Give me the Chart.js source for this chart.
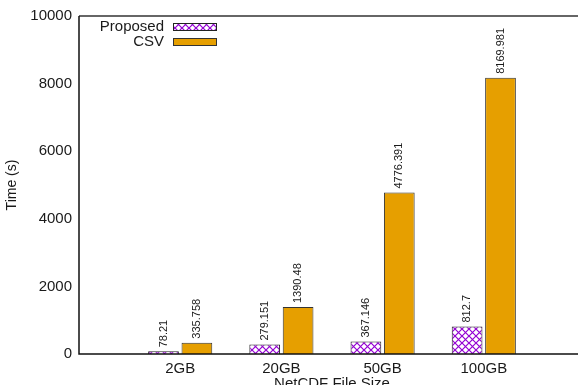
<!DOCTYPE html>
<html>
<head>
<meta charset="utf-8">
<script src="https://cdn.jsdelivr.net/npm/chart.js@4.4.0/dist/chart.umd.min.js"></script>
<style>
  html, body { margin: 0; padding: 0; background: #fff; overflow: hidden; }
  canvas { display: block; }
</style>
</head>
<body>
<canvas id="timeChart" width="578" height="385"></canvas>
<script>
const sizes = ["2GB", "20GB", "50GB", "100GB"];
const proposedTimes = [78.21, 279.151, 367.146, 812.7];
const csvTimes = [335.758, 1390.48, 4776.391, 8169.981];
const yTicks = [0, 2000, 4000, 6000, 8000, 10000];

const FONT = "'Liberation Sans', Arial, sans-serif";
const INK = "#1a1a1a";
const PURPLE = "#9400d3";
const ORANGE = "#e69f00";
const PLOT_RIGHT = 585; // plot box runs a little past the canvas edge

// empty slot on each side of the four groups
const labels = ["", ...sizes, ""];
const pad = (arr) => [null, ...arr, null];

// crosshatch fill for the "Proposed" bars
function crossHatch() {
  const n = 7;
  const c = document.createElement("canvas");
  c.width = n; c.height = n;
  const g = c.getContext("2d");
  g.fillStyle = "#fff";
  g.fillRect(0, 0, n, n);
  g.strokeStyle = PURPLE;
  g.lineWidth = 1.2;
  g.beginPath();
  g.moveTo(-1, -1); g.lineTo(n + 1, n + 1);
  g.moveTo(n + 1, -1); g.lineTo(-1, n + 1);
  g.stroke();
  return g.createPattern(c, "repeat");
}
const hatch = crossHatch();

// push the x scale out to PLOT_RIGHT before the bars are laid out
const stretchX = {
  id: "stretchX",
  afterLayout(chart) {
    const x = chart.scales.x;
    x.right = PLOT_RIGHT;
    x.width = x.right - x.left;
    x.configure();
    chart.chartArea.right = PLOT_RIGHT;
    chart.chartArea.width = PLOT_RIGHT - chart.chartArea.left;
  }
};

// top, left and bottom border lines of the plot area
const frame = {
  id: "frame",
  afterDatasetsDraw(chart) {
    const { ctx, chartArea: a } = chart;
    ctx.save();
    ctx.lineWidth = 1.5;
    ctx.strokeStyle = "#333";
    ctx.beginPath();
    ctx.moveTo(a.left, a.top);
    ctx.lineTo(a.right, a.top);
    ctx.stroke();
    ctx.strokeStyle = "#111";
    ctx.beginPath();
    ctx.moveTo(a.left, a.top);
    ctx.lineTo(a.left, a.bottom);
    ctx.lineTo(a.right, a.bottom);
    ctx.stroke();
    ctx.restore();
  }
};

// rotated value text above each bar
const barValues = {
  id: "barValues",
  afterDatasetsDraw(chart) {
    const { ctx } = chart;
    ctx.save();
    ctx.font = "11px " + FONT;
    ctx.fillStyle = INK;
    ctx.textAlign = "left";
    ctx.textBaseline = "middle";
    chart.data.datasets.forEach((ds, i) => {
      chart.getDatasetMeta(i).data.forEach((bar, j) => {
        const v = ds.data[j];
        if (v == null) return;
        ctx.save();
        ctx.translate(bar.x, bar.y - 4);
        ctx.rotate(-Math.PI / 2);
        ctx.fillText(String(v), 0, 0);
        ctx.restore();
      });
    });
    ctx.restore();
  }
};

// key in the top-left corner: text, then swatch
const key = {
  id: "key",
  afterDraw(chart) {
    const { ctx } = chart;
    ctx.save();
    ctx.font = "15px " + FONT;
    ctx.textAlign = "right";
    ctx.textBaseline = "middle";
    chart.data.datasets.forEach((ds, i) => {
      const y = 27 + i * 15;
      ctx.fillStyle = INK;
      ctx.fillText(ds.label, 164, y);
      ctx.fillStyle = ds.backgroundColor;
      ctx.fillRect(173, y - 4, 44, 8);
      ctx.strokeStyle = ds.borderColor;
      ctx.lineWidth = 1;
      ctx.strokeRect(173.5, y - 3.5, 43, 7);
    });
    ctx.restore();
  }
};

new Chart("timeChart", {
  type: "bar",
  data: {
    labels,
    datasets: [
      {
        label: "Proposed",
        data: pad(proposedTimes),
        backgroundColor: hatch,
        borderColor: "#222",
        borderWidth: 1,
        barPercentage: 0.92,
        categoryPercentage: 0.66
      },
      {
        label: "CSV",
        data: pad(csvTimes),
        backgroundColor: ORANGE,
        borderColor: "#333",
        borderWidth: 1,
        barPercentage: 0.92,
        categoryPercentage: 0.66
      }
    ]
  },
  options: {
    responsive: false,
    animation: false,
    devicePixelRatio: 1,
    layout: { padding: { top: 15, left: 0, right: 0, bottom: 0 } },
    plugins: {
      legend: { display: false },
      tooltip: { enabled: false }
    },
    scales: {
      x: {
        offset: false,
        grid: { display: false, drawTicks: false },
        border: { display: false },
        ticks: {
          color: INK,
          font: { family: FONT, size: 15 },
          padding: 6,
          autoSkip: false,
          maxRotation: 0
        },
        title: {
          display: true,
          text: "NetCDF File Size",
          color: INK,
          font: { family: FONT, size: 15 },
          padding: { top: 0, bottom: -8 }
        },
        afterFit(scale) { scale.height = 31; }
      },
      y: {
        min: 0,
        max: 10000,
        grid: { display: false, drawTicks: false },
        border: { display: false },
        afterBuildTicks(scale) {
          scale.ticks = yTicks.map((value) => ({ value }));
        },
        ticks: {
          color: INK,
          font: { family: FONT, size: 15 },
          padding: 7,
          callback: (v) => String(v)
        },
        title: {
          display: true,
          text: "Time (s)",
          color: INK,
          font: { family: FONT, size: 14 },
          padding: { top: 4, bottom: 0 }
        },
        afterFit(scale) { scale.width = 79; }
      }
    }
  },
  plugins: [stretchX, frame, barValues, key]
});
</script>
</body>
</html>
